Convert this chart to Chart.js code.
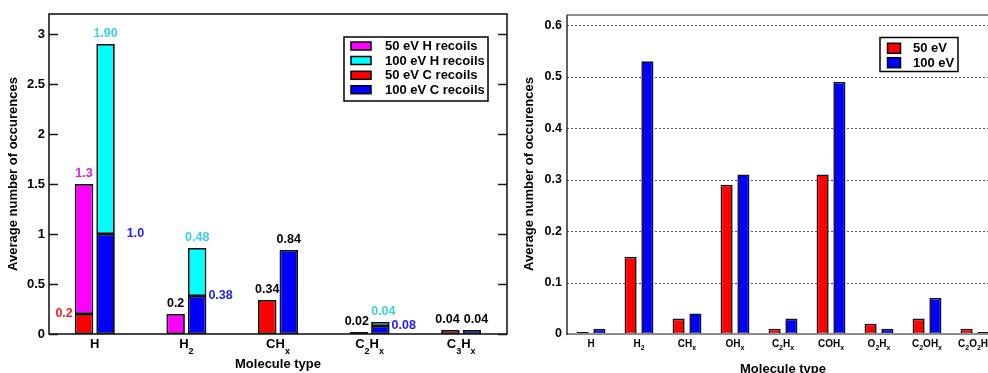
<!DOCTYPE html>
<html>
<head>
<meta charset="utf-8">
<script src="https://cdn.jsdelivr.net/npm/chart.js@4.4.0/dist/chart.umd.min.js"></script>
<style>
  html, body { margin: 0; padding: 0; background: #fff; overflow: hidden; width: 988px; height: 373px; }
  canvas { position: absolute; top: 0; }
  #left { left: 0; }
  #right { left: 510px; }
</style>
</head>
<body>
<canvas id="left" width="510" height="373"></canvas>
<canvas id="right" width="489" height="373"></canvas>
<script>
// left panel: products of H and C recoils (stacked H on top of C)
const leftCats = ['H', 'H_2', 'CH_x', 'C_2H_x', 'C_3H_x'];
const c50 = [0.2, null, 0.34, 0.02, 0.04];
const h50 = [1.3, 0.2, null, null, null];
const c100 = [1.0, 0.38, 0.84, 0.08, 0.04];
const h100 = [1.9, 0.48, null, 0.04, null];
const leftTicks = [0, 0.5, 1, 1.5, 2, 2.5, 3];

// right panel: 50 eV vs 100 eV
const rightCats = ['H', 'H_2', 'CH_x', 'OH_x', 'C_2H_x', 'COH_x', 'O_2H_x', 'C_2OH_x', 'C_2O_2H_x'];
const ev50 = [0.004, 0.15, 0.03, 0.29, 0.01, 0.31, 0.02, 0.03, 0.01];
const ev100 = [0.01, 0.53, 0.04, 0.31, 0.03, 0.49, 0.01, 0.07, 0.004];
const rightTicks = [0, 0.1, 0.2, 0.3, 0.4, 0.5, 0.6];

const FONT = '"Liberation Sans", Arial, Helvetica, sans-serif';
const bold = s => 'bold ' + s + 'px ' + FONT;

// value labels on the left panel: dataset index, category index, decimals, colour, placement
const RED = '#f01c1c', MAG = '#d81fd8', CYA = '#3ccfe4', BLU = '#1c1cee', BLK = '#000';
const leftNotes = [
  { ds: 0, i: 0, dec: 1, color: RED, pos: 'left' },
  { ds: 1, i: 0, dec: 1, color: MAG, pos: 'top' },
  { ds: 3, i: 0, dec: 2, color: CYA, pos: 'top' },
  { ds: 2, i: 0, dec: 1, color: BLU, pos: 'right', dx: 10 },
  { ds: 1, i: 1, dec: 1, color: BLK, pos: 'top' },
  { ds: 3, i: 1, dec: 2, color: CYA, pos: 'top' },
  { ds: 2, i: 1, dec: 2, color: BLU, pos: 'right' },
  { ds: 0, i: 2, dec: 2, color: BLK, pos: 'top' },
  { ds: 2, i: 2, dec: 2, color: BLK, pos: 'top' },
  { ds: 0, i: 3, dec: 2, color: BLK, pos: 'top', dx: -2 },
  { ds: 3, i: 3, dec: 2, color: CYA, pos: 'top', dx: 3 },
  { ds: 2, i: 3, dec: 2, color: BLU, pos: 'right' },
  { ds: 0, i: 4, dec: 2, color: BLK, pos: 'top', dx: -3 },
  { ds: 2, i: 4, dec: 2, color: BLK, pos: 'top', dx: 4 }
];

// text with "_c" meaning subscript c
function drawSub(ctx, str, cx, base, size, subSize, drop) {
  const parts = [];
  for (let k = 0; k < str.length; k++) {
    if (str[k] === '_') { parts.push({ t: str[k + 1], sub: true }); k++; }
    else parts.push({ t: str[k], sub: false });
  }
  let w = 0;
  parts.forEach(p => { ctx.font = bold(p.sub ? subSize : size); p.w = ctx.measureText(p.t).width; w += p.w; });
  let x = cx - w / 2;
  ctx.textAlign = 'left';
  ctx.textBaseline = 'alphabetic';
  parts.forEach(p => {
    ctx.font = bold(p.sub ? subSize : size);
    ctx.fillText(p.t, x, base + (p.sub ? drop : 0));
    x += p.w;
  });
}

function yTitle(ctx, x, y) {
  ctx.save();
  ctx.translate(x, y);
  ctx.rotate(-Math.PI / 2);
  ctx.font = bold(13);
  ctx.fillStyle = '#000';
  ctx.textAlign = 'center';
  ctx.textBaseline = 'middle';
  ctx.fillText('Average number of occurences', 0, 0);
  ctx.restore();
}

function legendBox(ctx, chart, order, box, sw, rowY, textX) {
  ctx.fillStyle = '#fff';
  ctx.fillRect(box.x, box.y, box.w, box.h);
  ctx.strokeStyle = '#000';
  ctx.lineWidth = 1.5;
  ctx.strokeRect(box.x, box.y, box.w, box.h);
  order.forEach((d, r) => {
    const ds = chart.data.datasets[d];
    const cy = rowY[r];
    ctx.fillStyle = ds.backgroundColor;
    ctx.fillRect(sw.x, cy - sw.h / 2, sw.w, sw.h);
    ctx.lineWidth = 1.5;
    ctx.strokeRect(sw.x, cy - sw.h / 2, sw.w, sw.h);
    ctx.fillStyle = '#000';
    ctx.font = bold(13);
    ctx.textAlign = 'left';
    ctx.textBaseline = 'middle';
    ctx.fillText(ds.label, textX, cy + 0.5);
  });
}

const leftPlugin = {
  id: 'leftDecor',
  afterDatasetsDraw(chart) {
    const ctx = chart.ctx, a = chart.chartArea, ys = chart.scales.y, xs = chart.scales.x;
    ctx.save();
    // frame + inward ticks
    ctx.strokeStyle = '#1a1a1a';
    ctx.lineWidth = 1.6;
    ctx.strokeRect(a.left, a.top, a.right - a.left, a.bottom - a.top);
    leftTicks.forEach(v => {
      const y = Math.round(ys.getPixelForValue(v)) + 0.5;
      ctx.beginPath();
      ctx.moveTo(a.left, y); ctx.lineTo(a.left + 9, y);
      ctx.moveTo(a.right - 9, y); ctx.lineTo(a.right, y);
      ctx.stroke();
    });
    // value labels
    leftNotes.forEach(n => {
      const el = chart.getDatasetMeta(n.ds).data[n.i];
      const v = chart.data.datasets[n.ds].data[n.i];
      const txt = v.toFixed(n.dec);
      ctx.font = bold(12.5);
      ctx.fillStyle = n.color;
      ctx.textBaseline = 'middle';
      const dx = n.dx || 0;
      if (n.pos === 'top') {
        ctx.textAlign = 'center';
        ctx.fillText(txt, el.x + dx, el.y - 10);
      } else if (n.pos === 'left') {
        ctx.textAlign = 'right';
        ctx.fillText(txt, el.x - el.width / 2 - 2 + dx, el.y);
      } else {
        ctx.textAlign = 'left';
        ctx.fillText(txt, el.x + el.width / 2 + 2 + dx, el.y);
      }
    });
    // category labels
    ctx.fillStyle = '#000';
    leftCats.forEach((c, i) => drawSub(ctx, c, xs.getPixelForTick(i), 348, 13, 9, 5.5));
    // axis titles
    ctx.font = bold(13);
    ctx.textAlign = 'center';
    ctx.textBaseline = 'alphabetic';
    ctx.fillText('Molecule type', (a.left + a.right) / 2, 368);
    yTitle(ctx, 13, 174);
    legendBox(ctx, chart, [1, 3, 0, 2], { x: 344, y: 37, w: 144, h: 64 },
      { x: 351, w: 20, h: 8 }, [46, 60.5, 75.3, 89.7], 385);
    ctx.restore();
  }
};

const rightPlugin = {
  id: 'rightDecor',
  beforeDatasetsDraw(chart) {
    const ctx = chart.ctx, a = chart.chartArea, ys = chart.scales.y;
    ctx.save();
    ctx.strokeStyle = '#555';
    ctx.lineWidth = 1;
    ctx.setLineDash([2, 2]);
    rightTicks.forEach(v => {
      if (v === 0) return;
      const y = Math.round(ys.getPixelForValue(v)) + 0.5;
      ctx.beginPath();
      ctx.moveTo(a.left, y); ctx.lineTo(a.right, y);
      ctx.stroke();
    });
    ctx.restore();
  },
  afterDatasetsDraw(chart) {
    const ctx = chart.ctx, a = chart.chartArea, xs = chart.scales.x;
    ctx.save();
    ctx.lineWidth = 2;
    ctx.strokeStyle = '#8a8a8a';
    ctx.beginPath(); ctx.moveTo(a.left, a.bottom); ctx.lineTo(a.right, a.bottom); ctx.stroke();
    ctx.strokeStyle = '#666';
    ctx.lineWidth = 1.5;
    ctx.beginPath(); ctx.moveTo(a.left, a.top); ctx.lineTo(a.right, a.top); ctx.stroke();
    ctx.strokeStyle = '#2a2a2a';
    ctx.beginPath(); ctx.moveTo(a.left, a.top); ctx.lineTo(a.left, a.bottom + 1); ctx.stroke();
    ctx.fillStyle = '#000';
    rightCats.forEach((c, i) => drawSub(ctx, c, xs.getPixelForTick(i), 346.5, 10, 7, 3.5));
    ctx.font = bold(13);
    ctx.textAlign = 'center';
    ctx.textBaseline = 'alphabetic';
    ctx.fillText('Molecule type', (a.left + a.right) / 2, 373);
    yTitle(ctx, 19, 174);
    legendBox(ctx, chart, [0, 1], { x: 370, y: 37.5, w: 78, h: 34 },
      { x: 377.5, w: 13, h: 10 }, [48.3, 62.7], 403);
    ctx.restore();
  }
};

const noGrid = { display: false, drawTicks: false };
const noBorder = { display: false };
const plain = v => String(v);

new Chart(document.getElementById('left'), {
  type: 'bar',
  data: {
    labels: leftCats,
    datasets: [
      { label: '50 eV C recoils', data: c50, backgroundColor: '#ff0000', stack: 's50' },
      { label: '50 eV H recoils', data: h50, backgroundColor: '#ff00ff', stack: 's50' },
      { label: '100 eV C recoils', data: c100, backgroundColor: '#0000ff', stack: 's100' },
      { label: '100 eV H recoils', data: h100, backgroundColor: '#00ffff', stack: 's100' }
    ]
  },
  options: {
    responsive: false,
    animation: false,
    layout: { padding: { top: 14, right: 3, left: 0, bottom: 0 } },
    datasets: {
      bar: { borderColor: '#111', borderWidth: 1.8, borderSkipped: false, categoryPercentage: 0.47, barPercentage: 0.86 }
    },
    plugins: { legend: { display: false }, tooltip: { enabled: false } },
    scales: {
      x: {
        stacked: true,
        grid: noGrid, border: noBorder,
        ticks: { display: false },
        afterFit: s => { s.height = 39; }
      },
      y: {
        stacked: true,
        min: 0, max: 3.2,
        grid: noGrid, border: noBorder,
        ticks: { padding: 4, color: '#000', font: { family: FONT, size: 13, weight: 'bold' }, callback: plain },
        afterBuildTicks: s => { s.ticks = leftTicks.map(v => ({ value: v })); },
        afterFit: s => { s.width = 49; }
      }
    }
  },
  plugins: [leftPlugin]
});

new Chart(document.getElementById('right'), {
  type: 'bar',
  data: {
    labels: rightCats,
    datasets: [
      { label: '50 eV', data: ev50, backgroundColor: '#ff0000' },
      { label: '100 eV', data: ev100, backgroundColor: '#0000ff' }
    ]
  },
  options: {
    responsive: false,
    animation: false,
    layout: { padding: { top: 15, right: 0, left: 0, bottom: 0 } },
    datasets: {
      bar: { borderColor: '#111', borderWidth: 1.6, borderSkipped: false, categoryPercentage: 0.7, barPercentage: 0.72 }
    },
    plugins: { legend: { display: false }, tooltip: { enabled: false } },
    scales: {
      x: {
        grid: noGrid, border: noBorder,
        ticks: { display: false },
        afterFit: s => { s.height = 39; }
      },
      y: {
        min: 0, max: 0.62,
        grid: noGrid, border: noBorder,
        ticks: { padding: 5, color: '#000', font: { family: FONT, size: 12.5, weight: 'bold' }, callback: plain },
        afterBuildTicks: s => { s.ticks = rightTicks.map(v => ({ value: v })); },
        afterFit: s => { s.width = 57; }
      }
    }
  },
  plugins: [rightPlugin]
});
</script>
</body>
</html>
